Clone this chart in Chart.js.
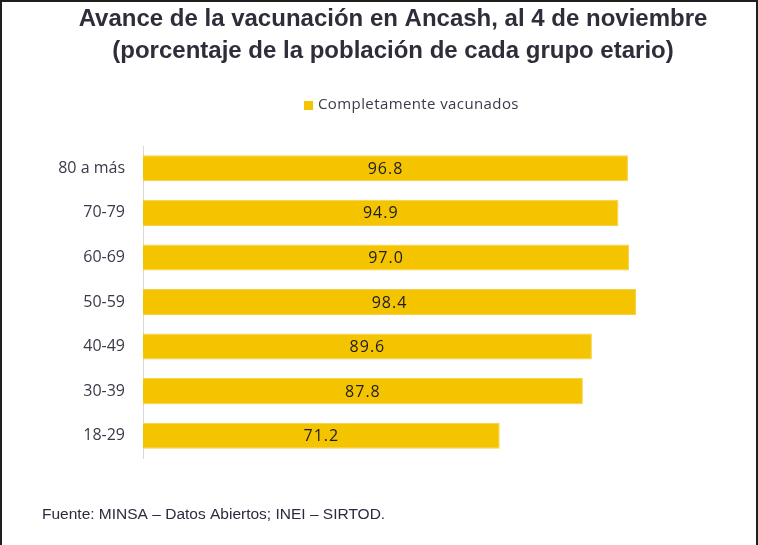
<!DOCTYPE html>
<html>
<head>
<meta charset="utf-8">
<script src="https://cdn.jsdelivr.net/npm/chart.js@4/dist/chart.umd.min.js"></script>
<style>
  html, body { margin: 0; padding: 0; background: #fff; }
  #wrap { width: 758px; height: 545px; }
</style>
</head>
<body>
<div id="wrap"><canvas id="myChart" width="758" height="545"></canvas></div>
<script>
var grupos = ['80 a más', '70-79', '60-69', '50-59', '40-49', '30-39', '18-29'];
var vacunados = [96.8, 94.9, 97.0, 98.4, 89.6, 87.8, 71.2];
var tituloLineas = ['Avance de la vacunación en Ancash, al 4 de noviembre', '(porcentaje de la población de cada grupo etario)'];
var fuente = 'Fuente: MINSA – Datos Abiertos; INEI – SIRTOD.';

// etiquetas de valor en el centro de cada barra
var etiquetas = {
    id: 'etiquetas',
    afterDatasetsDraw: function (chart) {
        var c = chart.ctx;
        var meta = chart.getDatasetMeta(0);
        c.save();
        c.font = '16px "Open Sans"';
        c.letterSpacing = '1px';
        c.fillStyle = '#1c1c24';
        c.textAlign = 'center';
        c.textBaseline = 'middle';
        meta.data.forEach(function (bar, i) {
            c.fillText(chart.data.datasets[0].data[i].toFixed(1), (bar.x + bar.base) / 2, bar.y + 1);
        });
        c.restore();
    }
};

// titulo, leyenda, fuente y marco
var extras = {
    id: 'extras',
    afterDraw: function (chart) {
        var c = chart.ctx;
        var ds = chart.data.datasets[0];
        c.save();
        c.font = 'bold 24px "Liberation Sans"';
        c.fillStyle = '#2e2e3a';
        c.textAlign = 'center';
        c.textBaseline = 'middle';
        c.fillText(tituloLineas[0], 393, 19);
        c.fillText(tituloLineas[1], 393, 51);

        c.textAlign = 'left';
        c.fillStyle = ds.backgroundColor;
        c.fillRect(304, 101, 9, 9);
        c.font = '15px "Open Sans"';
        c.letterSpacing = '0.4px';
        c.fillStyle = '#3a3a4a';
        c.fillText(ds.label, 318, 105);
        c.letterSpacing = '0px';
        c.font = '15.5px "Liberation Sans"';
        c.fillStyle = '#2b2b40';
        c.fillText(fuente, 42, 515);

        c.strokeStyle = '#1e1e1e';
        c.lineWidth = 2;
        c.beginPath();
        c.moveTo(1, 545);
        c.lineTo(1, 1);
        c.lineTo(757, 1);
        c.lineTo(757, 545);
        c.stroke();
        c.restore();
    }
};

var ctx = document.getElementById('myChart').getContext('2d');
var myChart = new Chart(ctx, {
    type: 'bar',
    data: {
        labels: grupos,
        datasets: [{
            label: 'Completamente vacunados',
            data: vacunados,
            backgroundColor: '#F5C400',
            borderColor: '#F7D04A',
            borderWidth: 1,
            categoryPercentage: 1,
            barPercentage: 0.585
        }]
    },
    options: {
        indexAxis: 'y',
        responsive: false,
        animation: false,
        layout: { padding: { left: 0, right: 114, top: 146, bottom: 87 } },
        plugins: {
            legend: { display: false },
            tooltip: { enabled: false },
            title: { display: false }
        },
        scales: {
            x: {
                display: false,
                min: 0,
                max: 100
            },
            y: {
                afterFit: function (scale) { scale.width = 143; },
                grid: { display: false },
                border: { display: true, color: '#d9d9d9', width: 1 },
                ticks: {
                    color: '#3a3a4a',
                    padding: 10,
                    font: { family: '"Open Sans"', size: 16 }
                }
            }
        }
    },
    plugins: [etiquetas, extras]
});
</script>
</body>
</html>
